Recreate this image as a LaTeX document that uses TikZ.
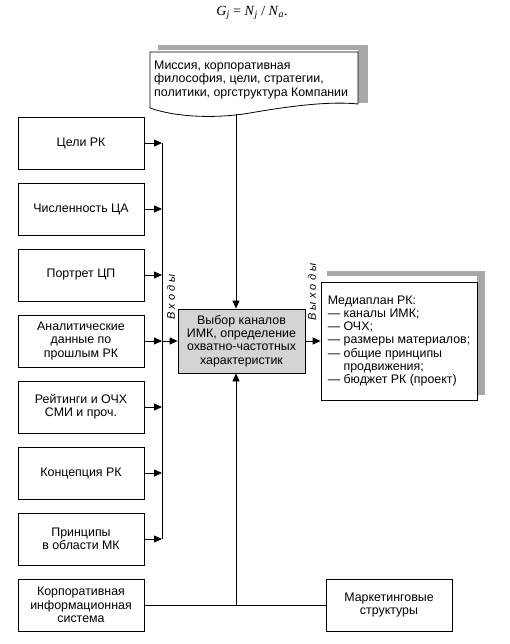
\documentclass[tikz,border=0pt]{standalone}
\usepackage{fontspec}
\setmainfont{Liberation Sans}
\newfontfamily\spacedfont[LetterSpace=30]{Liberation Sans}
\newfontfamily\formulafont{Liberation Serif}
\usetikzlibrary{arrows.meta}

\definecolor{shadowgray}{RGB}{168,168,168}
\definecolor{boxgray}{RGB}{212,212,212}

\begin{document}
\begin{tikzpicture}[x=1pt, y=-1pt,
    box/.style={draw, line width=0.8pt, minimum width=126pt, minimum height=52pt,
        align=center, inner sep=2pt, font=\fontsize{12.4}{13.3}\selectfont},
    arr/.style={-{Triangle[length=8pt,width=7pt]}, line width=0.8pt},
    lbl/.style={rotate=90, font=\spacedfont\itshape\fontsize{11}{12}\selectfont}]
    \useasboundingbox (0,0) rectangle (510,644);

    % Formula
    \node at (252,13) (formula) {\formulafont\fontsize{14}{16}\selectfont
        \textit{G}\textsubscript{\textit{j}} = \textit{N}\textsubscript{\textit{j}} / \textit{N}\textsubscript{\textit{a}}.};

    % Mission sheet with shadow
    \fill[shadowgray] (158,45) rectangle (368,103);
    \fill[white] (150,50) rectangle (358,103);
    \draw[line width=0.8pt, fill=white] (150,108) -- (150,52) -- (358,52) -- (358,104)
        .. controls (330,101) and (290,106) .. (250,113)
        .. controls (215,119) and (175,117) .. (150,108);
    \node at (154,80) [anchor=west, align=left, inner sep=0pt,
        font=\fontsize{12.4}{13.3}\selectfont] (mission)
        {Миссия, корпоративная\\философия, цели, стратегии,\\политики, оргструктура Компании};
    \coordinate (misbot) at (236,114);

    % Input boxes
    \node at (81,143) [box] (goals) {Цели РК};
    \node at (81,209) [box] (size) {Численность ЦА};
    \node at (81,275) [box] (portrait) {Портрет ЦП};
    \node at (81,341) [box] (past) {Аналитические\\данные по\\прошлым РК};
    \node at (81,407) [box] (ratings) {Рейтинги и ОЧХ\\СМИ и проч.};
    \node at (81,473) [box] (concept) {Концепция РК};
    \node at (81,539) [box] (principles) {Принципы\\в области МК};
    \node at (81,605) [box] (corp) {Корпоративная\\информационная\\система};
    \node at (389,605) [box] (mkt) {Маркетинговые\\структуры};

    % Central box
    \node at (241.5,341) [box, fill=boxgray, minimum width=127pt, minimum height=64pt] (choice)
        {Выбор каналов\\ИМК, определение\\охватно-частотных\\характеристик};

    % Output sheet with shadow
    \fill[shadowgray] (327,271) rectangle (485,395);
    \fill[white] (321,276) rectangle (477,400);
    \node at (399,341) [box, fill=white, align=left, minimum width=156pt, minimum height=118pt] (plan)
        {Медиаплан РК:\\— каналы ИМК;\\— ОЧХ;\\— размеры материалов;\\— общие принципы\\\hphantom{— }продвижения;\\— бюджет РК (проект)};

    % Bus of inputs
    \coordinate (bustop) at (162,143);
    \coordinate (busbot) at (162,539);
    \draw[line width=0.8pt] (bustop) -- (busbot);
    \draw[arr] (goals.east) -- (goals.east -| bustop);
    \draw[arr] (size.east) -- (size.east -| bustop);
    \draw[arr] (portrait.east) -- (portrait.east -| bustop);
    \draw[arr] (past.east) -- (past.east -| bustop);
    \draw[arr] (ratings.east) -- (ratings.east -| bustop);
    \draw[arr] (concept.east) -- (concept.east -| bustop);
    \draw[arr] (principles.east) -- (principles.east -| bustop);
    \draw[arr] (past.east -| bustop) -- (choice.west);
    \node at (171,297) [lbl] (inputs) {Входы};

    % Mission to choice
    \draw[arr] (misbot) -- (misbot |- choice.north);

    % Choice to plan
    \draw[arr] (choice.east) -- (plan.west);
    \node at (312,292) [lbl] (outputs) {Выходы};

    % Bottom resources
    \coordinate (join) at (236,605);
    \draw[line width=0.8pt] (corp.east) -- (mkt.west);
    \draw[arr] (join) -- (join |- choice.south);
\end{tikzpicture}
\end{document}
